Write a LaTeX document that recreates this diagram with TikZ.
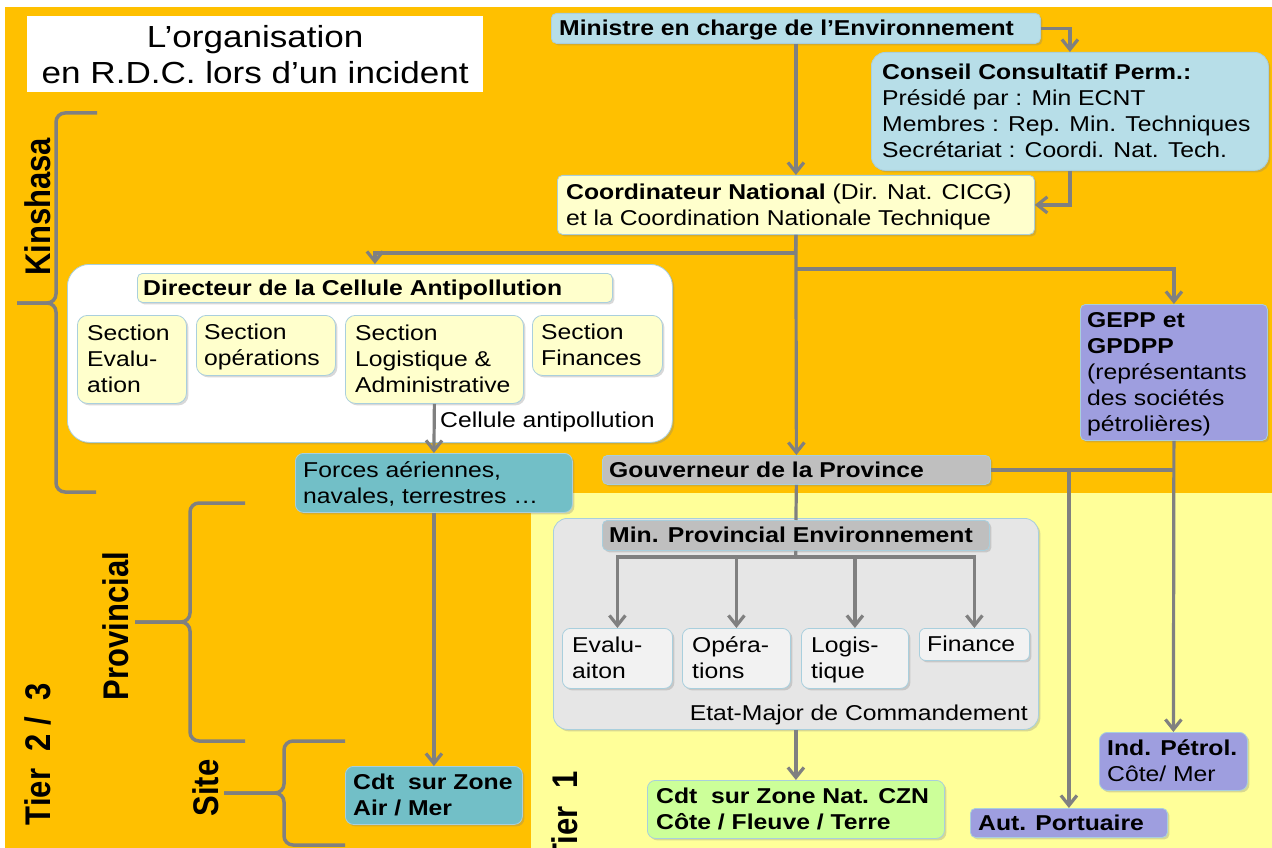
\documentclass[tikz,border=0pt]{standalone}
\usepackage{fontspec}
\setmainfont[FakeStretch=1.15]{Liberation Sans}
\newfontfamily\plainfont{Liberation Sans}
\usepackage{graphicx}
\usetikzlibrary{arrows.meta,shadows}
\definecolor{bgorange}{HTML}{FFC000}
\definecolor{bgyellow}{HTML}{FFFF99}
\definecolor{lblue}{HTML}{B7DEE8}
\definecolor{lyel}{HTML}{FFFFCC}
\definecolor{lpurp}{HTML}{9E9EDF}
\definecolor{lgrey}{HTML}{BFBFBF}
\definecolor{cgrey}{HTML}{E6E6E6}
\definecolor{sgrey}{HTML}{F2F2F2}
\definecolor{tealbox}{HTML}{72BFC7}
\definecolor{lgreen}{HTML}{CCFF99}
\definecolor{edgeblue}{HTML}{A9CFDD}
\definecolor{linegrey}{HTML}{808080}
\tikzset{
 bx/.style={draw=edgeblue, line width=0.8pt, rounded corners=5pt, inner sep=0pt,
   drop shadow={shadow xshift=2pt, shadow yshift=-2pt, opacity=0.3}},
 txt/.style={inner sep=0pt, font=\fontsize{21.5}{26}\selectfont},
 conn/.style={draw=linegrey, line width=3.2pt},
 arr/.style={conn, -{Straight Barb[length=10pt,width=16pt]}},
 brace/.style={draw=linegrey, line width=3.5pt, rounded corners=9pt},
 rot/.style={inner sep=0pt, font=\plainfont\bfseries\fontsize{31}{31}\selectfont},
}
% [pad]{style}{name}{x1}{y1}{x2}{y2}{lines}{text}
\newcommand\mybox[9][8]{%
  \pgfmathsetmacro\myW{#6-#4}\pgfmathsetmacro\myH{#7-#5}%
  \pgfmathsetmacro\myB{(#5+#7)/2+7.7-13*(#8-1)}\pgfmathsetmacro\myX{#4+#1}%
  \node[bx, #2, anchor=north west, minimum width=\myW pt, minimum height=\myH pt] (#3) at (#4,#5) {};
  \node[txt, anchor=base west] (#3-t) at (\myX,\myB) {\begin{tabular}[t]{@{}l@{}}#9\end{tabular}};}
\begin{document}
\begin{tikzpicture}[x=1pt,y=-1pt]
\useasboundingbox (0,0) rectangle (1272,848);
\fill[white] (0,0) rectangle (1272,848);
\fill[bgorange] (5,7) rectangle (1272,848);
\fill[bgyellow] (531,493) rectangle (1272,848);

% title
\node[fill=white, minimum width=456pt, minimum height=76pt, anchor=north west, inner sep=0pt] (titlebox) at (27,16) {};
\node[align=center, font=\fontsize{30.5}{36}\selectfont, inner sep=0pt] (title) at (titlebox.center) {L’organisation\\en R.D.C. lors d’un incident};

% containers
\node[bx, fill=white, rounded corners=22pt, minimum width=605pt, minimum height=178pt, anchor=north west] (cell) at (67,264) {};
\node[bx, fill=cgrey, rounded corners=14pt, minimum width=485pt, minimum height=211pt, anchor=north west] (etat) at (553,518) {};
\node[txt, anchor=base west] (cellab) at (440,427) {Cellule antipollution};
\node[txt, anchor=base east] (etatlab) at (1028,720) {Etat-Major de Commandement};

% boxes
\mybox{fill=lblue}{mini}{551}{13}{1040}{43}{1}{\textbf{Ministre en charge de l’Environnement}}
\mybox[11]{fill=lblue, rounded corners=14pt}{cons}{871}{52}{1268}{170}{4}{\textbf{Conseil Consultatif Perm.:}\\Présidé par : Min ECNT\\Membres : Rep. Min. Techniques\\Secrétariat : Coordi. Nat. Tech.}
\mybox[9]{fill=lyel}{coord}{557}{175}{1034}{234}{2}{\textbf{Coordinateur National} (Dir. Nat. CICG)\\et la Coordination Nationale Technique}
\mybox[6]{fill=lyel}{dir}{137}{273}{612}{302}{1}{\textbf{Directeur de la Cellule Antipollution}}
\mybox[10]{fill=lyel, rounded corners=10pt}{seva}{77}{315}{186}{403}{3}{Section\\Evalu-\\ation}
\mybox{fill=lyel, rounded corners=10pt}{sope}{196}{315}{335}{375}{2}{Section\\opérations}
\mybox[10]{fill=lyel, rounded corners=10pt}{slog}{345}{315}{523}{403}{3}{Section\\Logistique \&\\Administrative}
\mybox[9]{fill=lyel, rounded corners=10pt}{sfin}{532}{315}{662}{375}{2}{Section\\Finances}
\mybox[7]{fill=lpurp}{gepp}{1080}{304}{1267}{440}{5}{\textbf{GEPP et}\\\textbf{GPDPP}\\(représentants\\des sociétés\\pétrolières)}
\mybox[7]{fill=lgrey}{gouv}{602}{455}{990}{484}{1}{\textbf{Gouverneur de la Province}}
\mybox{fill=tealbox, rounded corners=8pt}{forc}{295}{453}{572}{512}{2}{Forces aériennes,\\navales, terrestres …}
\mybox[7]{fill=lgrey}{minp}{602}{520}{989}{550}{1}{\textbf{Min. Provincial Environnement}}
\mybox[10]{fill=sgrey, rounded corners=8pt}{eval}{562}{628}{672}{688}{2}{Evalu-\\aiton}
\mybox[10]{fill=sgrey, rounded corners=8pt}{oper}{682}{628}{790}{688}{2}{Opéra-\\tions}
\mybox[10]{fill=sgrey, rounded corners=8pt}{logi}{801}{628}{908}{688}{2}{Logis-\\tique}
\mybox{fill=sgrey, rounded corners=6pt}{fina}{919}{628}{1029}{660}{1}{Finance}
\mybox[9]{fill=lgreen, rounded corners=8pt}{czn}{647}{780}{944}{838}{2}{\textbf{Cdt\ \ sur Zone Nat. CZN}\\\textbf{Côte / Fleuve / Terre}}
\mybox{fill=lpurp, rounded corners=8pt}{indp}{1099}{732}{1247}{790}{2}{\textbf{Ind. Pétrol.}\\Côte/ Mer}
\mybox{fill=lpurp}{autp}{970}{808}{1167}{837}{1}{\textbf{Aut. Portuaire}}
\mybox{fill=tealbox, rounded corners=8pt}{cdta}{345}{766}{522}{824}{2}{\textbf{Cdt\ \ sur Zone}\\\textbf{Air / Mer}}

% rotated labels
\node[rot] (kin) at (38,207) {\scalebox{1.15}[1]{\rotatebox{90}{Kinshasa}}};
\node[rot] (prov) at (116,626) {\scalebox{1.15}[1]{\rotatebox{90}{Provincial}}};
\node[rot] (tier23) at (38,754) {\scalebox{1.15}[1]{\rotatebox{90}{Tier\ \ 2 / \ 3}}};
\node[rot] (site) at (206,788) {\scalebox{1.15}[1]{\rotatebox{90}{Site}}};
\node[rot] (tier1) at (565,817) {\scalebox{1.15}[1]{\rotatebox{90}{Tier\ \ 1}}};

% braces
\draw[brace] (97,113) -- (56,113) -- (56,303) -- (17,303);
\draw[brace] (96,492) -- (56,492) -- (56,303) -- (17,303);
\draw[brace] (245,503) -- (190,503) -- (190,622) -- (135,622);
\draw[brace] (245,741) -- (190,741) -- (190,622) -- (135,622);
\draw[brace] (345,741) -- (284,741) -- (284,793) -- (224,793);
\draw[brace] (345,845) -- (284,845) -- (284,793) -- (224,793);

% connectors
\coordinate (j1) at (795.5,253);
\coordinate (j2) at (795.5,269);
\coordinate (j3) at (795.5,557);
\draw[arr] (mini.south) -- (coord.north);
\draw[arr] (mini.east) -| (cons.north);
\draw[arr] (cons.south) |- (coord.east);
\draw[conn] (coord.south) -- (j1);
\draw[arr] (j1) -| (cell.north -| dir.north);
\draw[arr] (j2) -| (gepp.north);
\draw[arr] (coord.south) -- (gouv.north);
\draw[conn] (gouv.south) -- (minp.north);
\draw[conn] (minp.south) -- (j3);
\draw[arr] (j3) -| (eval.north);
\draw[arr] (j3) -| (oper.north);
\draw[arr] (j3) -| (logi.north);
\draw[arr] (j3) -| (fina.north);
\draw[arr] (etat.south) -- (czn.north);
\draw[conn] (gouv.east) -- (gouv.east -| gepp.south);
\draw[arr] (gepp.south) -- (indp.north);
\draw[arr] (gouv.east -| autp.north) -- (autp.north);
\draw[arr] (slog.south) -- (forc.north);
\draw[arr] (forc.south) -- (cdta.north);
\end{tikzpicture}
\end{document}
